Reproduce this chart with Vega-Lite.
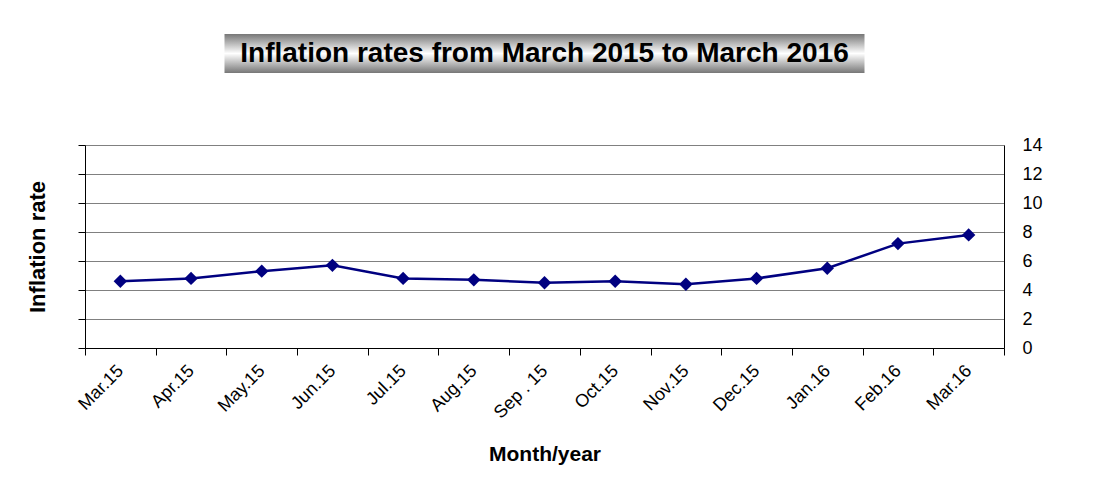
{
  "$schema": "https://vega.github.io/schema/vega-lite/v6.json",
  "background": "white",
  "padding": {"left": 26, "top": 34, "right": 0, "bottom": 0},
  "config": {"font": "Liberation Sans", "view": {"stroke": null}},
  "center": true,
  "bounds": "flush",
  "spacing": 72,
  "vconcat": [
    {
      "width": 640,
      "height": 39,
      "view": {
        "stroke": null,
        "fill": {
          "gradient": "linear",
          "x1": 0, "y1": 0, "x2": 0, "y2": 1,
          "stops": [
            {"offset": 0, "color": "#777777"},
            {"offset": 0.5, "color": "#ffffff"},
            {"offset": 1, "color": "#777777"}
          ]
        }
      },
      "data": {"values": [{"title": "Inflation rates from  March 2015 to March 2016"}]},
      "mark": {"type": "text", "fontSize": 28, "fontWeight": "bold", "font": "Liberation Sans", "color": "black"},
      "encoding": {"text": {"field": "title"}}
    },
    {
      "width": 919,
      "height": 203,
      "data": {
        "values": [
          {"month": "Mar.15", "rate": 4.6},
          {"month": "Apr.15", "rate": 4.8},
          {"month": "May.15", "rate": 5.3},
          {"month": "Jun.15", "rate": 5.7},
          {"month": "Jul.15", "rate": 4.8},
          {"month": "Aug.15", "rate": 4.7},
          {"month": "Sep . 15", "rate": 4.5},
          {"month": "Oct.15", "rate": 4.6},
          {"month": "Nov.15", "rate": 4.4},
          {"month": "Dec.15", "rate": 4.8},
          {"month": "Jan.16", "rate": 5.5},
          {"month": "Feb.16", "rate": 7.2},
          {"month": "Mar.16", "rate": 7.8}
        ]
      },
      "encoding": {
        "x": {
          "field": "month",
          "type": "nominal",
          "sort": null,
          "bandPosition": 0.5,
          "scale": {"type": "band", "paddingInner": 0, "paddingOuter": 0},
          "axis": {
            "title": "Month/year",
            "labelAngle": -45,
            "labelAlign": "right",
            "labelBaseline": "middle",
            "labelFontSize": 18,
            "labelColor": "black",
            "labelPadding": 13,
            "tickBand": "extent",
            "tickSize": 7,
            "tickColor": "black",
            "domainColor": "black",
            "grid": false,
            "titleFontSize": 21,
            "titleFontWeight": "bold",
            "titleColor": "black",
            "titlePadding": 22
          }
        }
      },
      "layer": [
        {
          "mark": {"type": "line", "color": "#000080", "strokeWidth": 2.5},
          "encoding": {
            "y": {
              "field": "rate",
              "type": "quantitative",
              "scale": {"domain": [0, 14], "nice": false},
              "axis": {
                "orient": "left",
                "title": "Inflation rate",
                "labels": false,
                "ticks": true,
                "tickSize": 7,
                "tickColor": "black",
                "domainColor": "black",
                "grid": true,
                "gridColor": "#808080",
                "gridOpacity": 1,
                "values": [0, 2, 4, 6, 8, 10, 12, 14],
                "titleFontSize": 22,
                "titleFontWeight": "bold",
                "titleColor": "black",
                "titlePadding": 28
              }
            }
          }
        },
        {
          "mark": {"type": "point", "shape": "diamond", "filled": true, "color": "#000080", "size": 180, "opacity": 1},
          "encoding": {
            "y": {
              "field": "rate",
              "type": "quantitative",
              "scale": {"domain": [0, 14], "nice": false},
              "axis": {
                "orient": "right",
                "title": null,
                "grid": false,
                "ticks": false,
                "labelPadding": 18,
                "labelFontSize": 18,
                "labelColor": "black",
                "domainColor": "black",
                "values": [0, 2, 4, 6, 8, 10, 12, 14]
              }
            }
          }
        }
      ],
      "resolve": {"axis": {"y": "independent"}}
    }
  ]
}
